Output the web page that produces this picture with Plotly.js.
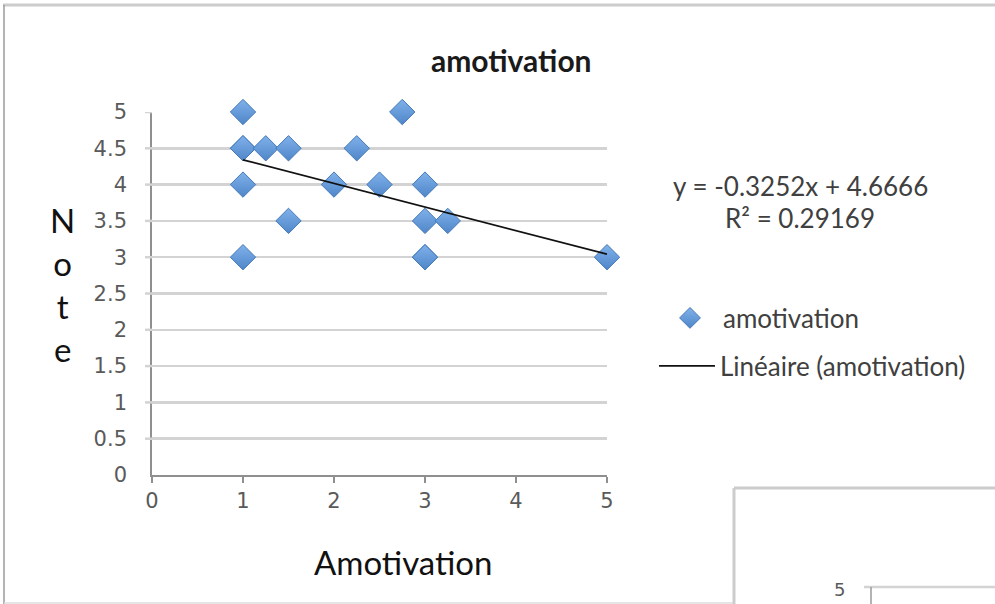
<!DOCTYPE html>
<html>
<head>
<meta charset="utf-8">
<script src="https://cdn.plot.ly/plotly-3.0.1.min.js"></script>
<style>html,body{margin:0;padding:0;background:#fff;}#chart{width:995px;height:604px;}</style>
</head>
<body>
<div id="chart"></div>
<script>
// Data
const amotivationX = [1, 2.75, 1, 1, 1.25, 1.5, 2.25, 1, 2, 2.5, 3, 1.5, 3, 3.25, 1, 3, 3, 5];
const noteY        = [5, 5, 4.5, 4.5, 4.5, 4.5, 4.5, 4, 4, 4, 4, 3.5, 3.5, 3.5, 3, 3, 3, 3];
const trendSlope = -0.3252;
const trendIntercept = 4.6666;
const rSquared = 0.29169;
const xTickVals = [0, 1, 2, 3, 4, 5];
const yTickVals = [0, 0.5, 1, 1.5, 2, 2.5, 3, 3.5, 4, 4.5, 5];
const xTickText = ['0', '1', '2', '3', '4', '5'];
const yTickText = ['0', '0.5', '1', '1.5', '2', '2.5', '3', '3.5', '4', '4.5', '5'];
const chartTitle = 'amotivation';
const xTitle = 'Amotivation';
const yTitleLetters = ['N', 'o', 't', 'e'];
const seriesName = 'amotivation';
const trendName = 'Linéaire (amotivation)';

const W = 995, H = 604;
const px = v => v / W;
const py = v => 1 - v / H;

const xMin = Math.min(...amotivationX), xMax = Math.max(...amotivationX);
const trendX = [xMin, xMax];
const trendY = trendX.map(x => trendSlope * x + trendIntercept);

const tickFont = {family: 'DejaVu Sans', size: 21, color: '#5a5a5a'};
const textFont = {family: 'Lato', size: 26, color: '#404040'};

const data = [
  {
    type: 'scatter', mode: 'markers', name: seriesName,
    x: amotivationX, y: noteY,
    marker: {symbol: 'diamond', size: 19.5, color: '#80b1ea',
             gradient: {type: 'vertical', color: '#4f86c9'},
             line: {color: '#4479b9', width: 1}},
    cliponaxis: false, legend: 'legend'
  },
  {
    type: 'scatter', mode: 'lines', name: trendName,
    x: trendX, y: trendY,
    line: {color: '#111', width: 1.8},
    cliponaxis: false, legend: 'legend2'
  }
];

// short grey tick stubs left of the y axis (grid line extensions), one per y tick value
const yTickStubs = yTickVals.filter(v => v > 0).map(v => ({
  type: 'line', xref: 'paper', yref: 'y', x0: px(145), x1: px(152), y0: v, y1: v,
  line: {color: '#d3d3d3', width: 2.5}
}));

const layout = {
  width: W, height: H,
  margin: {l: 0, r: 0, t: 0, b: 0},
  paper_bgcolor: '#fff', plot_bgcolor: '#fff',
  showlegend: true,
  xaxis: {
    domain: [px(152), px(607)], range: [0, 5],
    tickvals: xTickVals, ticktext: xTickText,
    showgrid: false, zeroline: false,
    showline: true, linecolor: '#8f8f8f', linewidth: 1.8,
    ticks: 'outside', ticklen: 6, tickcolor: '#8f8f8f', tickwidth: 1.8,
    tickfont: tickFont,
    fixedrange: true
  },
  yaxis: {
    domain: [1 - 475 / H, 1 - 112 / H], range: [0, 5],
    tickvals: yTickVals, ticktext: yTickText,
    showgrid: true, gridcolor: '#d3d3d3', gridwidth: 2.5,
    zeroline: false,
    showline: true, linecolor: '#8f8f8f', linewidth: 1.8,
    ticks: 'outside', ticklen: 19, tickcolor: 'rgba(0,0,0,0)', tickwidth: 1,
    tickfont: tickFont,
    fixedrange: true
  },
  legend: {
    x: px(657), y: py(318), xanchor: 'left', yanchor: 'middle',
    itemwidth: 56,
    font: textFont, bgcolor: 'rgba(0,0,0,0)'
  },
  legend2: {
    x: px(654), y: py(366), xanchor: 'left', yanchor: 'middle',
    itemwidth: 56,
    font: textFont, bgcolor: 'rgba(0,0,0,0)'
  },
  annotations: [
    {text: '<b>' + chartTitle + '</b>', xref: 'paper', yref: 'paper', x: px(511), y: py(60),
     xanchor: 'center', yanchor: 'middle',
     showarrow: false, font: {family: 'Lato', size: 30, color: '#1a1a1a'}},
    {text: yTitleLetters.join('<br>'), xref: 'paper', yref: 'paper', x: px(62), y: py(284),
     xanchor: 'center', yanchor: 'middle',
     showarrow: false, align: 'center', font: {family: 'Lato', size: 33, color: '#111'}},
    {text: xTitle, xref: 'paper', yref: 'paper', x: px(403), y: py(562),
     xanchor: 'center', yanchor: 'middle',
     showarrow: false, font: {family: 'Lato', size: 33, color: '#111'}},
    {text: 'y = ' + trendSlope + 'x + ' + trendIntercept, xref: 'paper', yref: 'paper',
     x: px(800), y: py(186), xanchor: 'center', yanchor: 'middle', showarrow: false, font: textFont},
    {text: 'R² = ' + rSquared, xref: 'paper', yref: 'paper',
     x: px(800), y: py(218), xanchor: 'center', yanchor: 'middle', showarrow: false, font: textFont},
    {text: '5', xref: 'paper', yref: 'paper', x: px(839), y: py(589), xanchor: 'center', yanchor: 'middle',
     showarrow: false, font: {family: 'DejaVu Sans', size: 18, color: '#5a5a5a'}}
  ],
  shapes: yTickStubs.concat([
    // outer chart frame
    {type: 'line', xref: 'paper', yref: 'paper', x0: px(3), x1: px(995), y0: py(5), y1: py(5), line: {color: '#cccccc', width: 3}},
    {type: 'line', xref: 'paper', yref: 'paper', x0: px(4), x1: px(4), y0: py(5), y1: py(604), line: {color: '#9a9a9a', width: 1.5}},
    {type: 'line', xref: 'paper', yref: 'paper', x0: px(4), x1: px(734), y0: py(603), y1: py(603), line: {color: '#dddddd', width: 1.5}},
    // next chart frame (bottom right)
    {type: 'line', xref: 'paper', yref: 'paper', x0: px(734), x1: px(995), y0: py(488), y1: py(488), line: {color: '#cccccc', width: 3}},
    {type: 'line', xref: 'paper', yref: 'paper', x0: px(734), x1: px(734), y0: py(488), y1: py(604), line: {color: '#cccccc', width: 3}},
    {type: 'line', xref: 'paper', yref: 'paper', x0: px(864), x1: px(995), y0: py(587), y1: py(587), line: {color: '#d3d3d3', width: 2.5}},
    {type: 'line', xref: 'paper', yref: 'paper', x0: px(871), x1: px(871), y0: py(587), y1: py(604), line: {color: '#9a9a9a', width: 1.5}}
  ])
};

Plotly.newPlot('chart', data, layout, {displayModeBar: false, staticPlot: true});
</script>
</body>
</html>
